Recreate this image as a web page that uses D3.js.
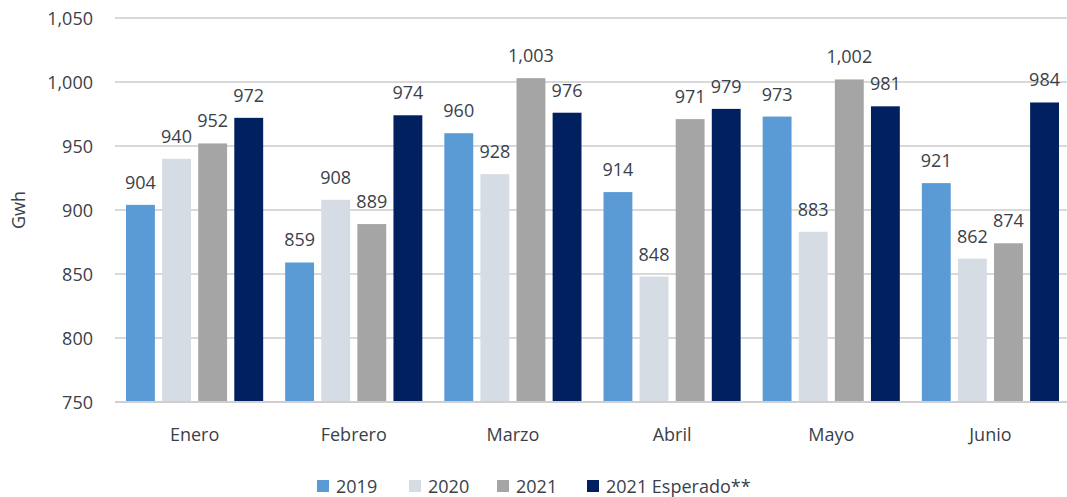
<!DOCTYPE html>
<html>
<head>
<meta charset="utf-8">
<script src="https://cdn.jsdelivr.net/npm/d3@7"></script>
<style>
  body { margin: 0; background: #fff; }
  text { font-family: 'Open Sans', 'Noto Sans', sans-serif; fill: #3a3f4a; }
</style>
</head>
<body>
<svg id="chart"></svg>
<script>
const months = ['Enero', 'Febrero', 'Marzo', 'Abril', 'Mayo', 'Junio'];
const seriesNames = ['2019', '2020', '2021', '2021 Esperado**'];
const values2019 = [904, 859, 960, 914, 973, 921];
const values2020 = [940, 908, 928, 848, 883, 862];
const values2021 = [952, 889, 1003, 971, 1002, 874];
const valuesEsperado = [972, 974, 976, 979, 981, 984];
const colors = ['#5b9bd5', '#d6dce4', '#a5a5a5', '#002060'];
const yTicks = [750, 800, 850, 900, 950, 1000, 1050];

const width = 1067;
const height = 497;
const margin = { top: 18, right: 0, bottom: 95, left: 115 };
const seriesValues = [values2019, values2020, values2021, valuesEsperado];

const svg = d3.select('#chart').attr('width', width).attr('height', height);

const x0 = d3.scaleBand().domain(months).range([margin.left, width + 3]).paddingInner(0).paddingOuter(0);
const x1 = d3.scaleBand().domain(seriesNames).range([11, x0.bandwidth() - 11]).paddingInner(0.2).paddingOuter(0);
const y = d3.scaleLinear().domain([750, 1050]).range([height - margin.bottom, margin.top]);
const fmt = d3.format(',');

// grid
svg.append('g')
  .selectAll('line')
  .data(yTicks)
  .join('line')
  .attr('x1', margin.left)
  .attr('x2', width)
  .attr('y1', (d) => y(d))
  .attr('y2', (d) => y(d))
  .attr('stroke', (d) => (d === 750 ? '#cfcfcf' : '#d9d9d9'))
  .attr('stroke-width', 2);

svg.append('g')
  .selectAll('text')
  .data(yTicks)
  .join('text')
  .attr('x', 93)
  .attr('y', (d) => y(d))
  .attr('text-anchor', 'end')
  .attr('dominant-baseline', 'central')
  .attr('font-size', '18px')
  .text((d) => fmt(d));

svg.append('text')
  .attr('transform', `translate(18,${y(900)}) rotate(-90)`)
  .attr('text-anchor', 'middle')
  .attr('dominant-baseline', 'central')
  .attr('font-size', '18px')
  .text('Gwh');

const data = months.flatMap((m, i) =>
  seriesNames.map((s, j) => ({ month: m, series: s, value: seriesValues[j][i], color: colors[j] }))
);

const groups = svg.append('g');
groups.selectAll('rect')
  .data(data)
  .join('rect')
  .attr('x', (d) => x0(d.month) + x1(d.series))
  .attr('y', (d) => y(d.value))
  .attr('width', x1.bandwidth())
  .attr('height', (d) => y(750) - y(d.value) - 1)
  .attr('fill', (d) => d.color);

groups.selectAll('text.val')
  .data(data)
  .join('text')
  .attr('class', 'val')
  .attr('x', (d) => x0(d.month) + x1(d.series) + x1.bandwidth() / 2)
  .attr('y', (d) => y(d.value) - 23)
  .attr('text-anchor', 'middle')
  .attr('dominant-baseline', 'central')
  .attr('font-size', '18px')
  .text((d) => fmt(d.value));

// month labels
svg.append('g')
  .selectAll('text')
  .data(months)
  .join('text')
  .attr('x', (d) => x0(d) + x0.bandwidth() / 2)
  .attr('y', 434)
  .attr('text-anchor', 'middle')
  .attr('dominant-baseline', 'central')
  .attr('font-size', '18px')
  .text((d) => d);

// legend
const legendX = [317, 409, 497, 587];
const legend = svg.append('g')
  .selectAll('g')
  .data(seriesNames)
  .join('g')
  .attr('transform', (d, i) => `translate(${legendX[i]},486)`);
legend.append('rect')
  .attr('x', 0)
  .attr('y', -6)
  .attr('width', 12)
  .attr('height', 12)
  .attr('fill', (d, i) => colors[i]);
legend.append('text')
  .attr('x', 19)
  .attr('y', 0)
  .attr('dominant-baseline', 'central')
  .attr('font-size', '18px')
  .text((d) => d);
</script>
</body>
</html>
